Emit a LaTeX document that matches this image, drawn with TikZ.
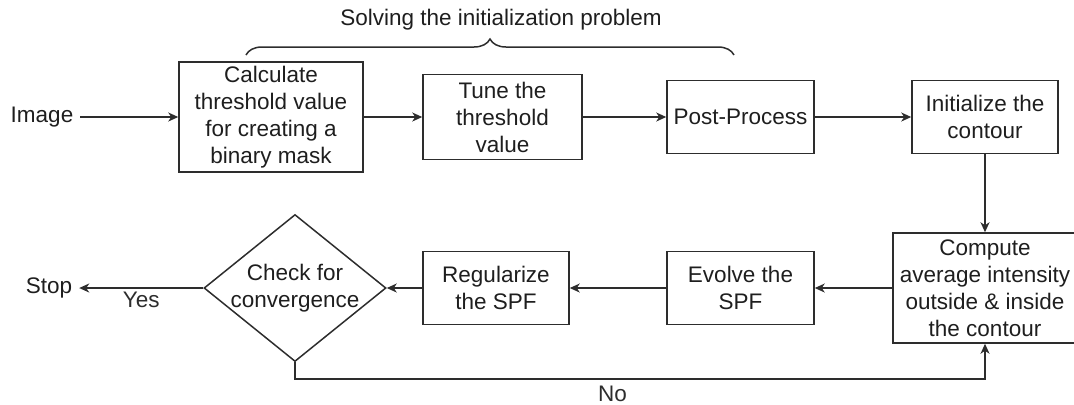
\documentclass[tikz,border=0pt]{standalone}
\usepackage{fontspec}
\setmainfont{Liberation Sans}
\usepackage{tikz}
\usetikzlibrary{arrows.meta,shapes.geometric,decorations.pathreplacing}
\definecolor{FlowInk}{RGB}{30,30,30}
\definecolor{FlowLine}{RGB}{45,45,45}

\begin{document}
\begin{tikzpicture}[x=0.5pt, y=-0.5pt, font=\fontsize{11.25}{13.5}\selectfont, text=FlowInk,
    procbox/.style={draw=FlowLine, line width=0.75pt, align=center, inner sep=2pt},
    flow/.style={-{Stealth[length=5pt,width=4.5pt,inset=1.5pt]}, line width=0.75pt, FlowLine}]
    \useasboundingbox (0,0) rectangle (1074,404);

    % Top row
    \node (img) at (42,117) {Image};
    \node[procbox, minimum width=92pt, minimum height=55pt] (calc) at (271,117) {Calculate\\threshold value\\for creating a\\binary mask};
    \node[procbox, minimum width=79.5pt, minimum height=42.5pt] (tune) at (502.5,117) {Tune the\\threshold\\value};
    \node[procbox, minimum width=73.5pt, minimum height=36.5pt] (post) at (740.5,117) {Post-Process};
    \node[procbox, minimum width=73pt, minimum height=36.5pt] (init) at (985,117) {Initialize the\\contour};

    % Brace over the first three steps
    \draw[FlowLine, line width=0.75pt, decorate, decoration={brace, amplitude=8pt}] (246,55) -- (734,55);
    \node (solving) at (501,20) {Solving the initialization problem};

    % Bottom row
    \node[procbox, minimum width=92pt, minimum height=55pt] (comp) at (985,288) {Compute\\average intensity\\outside \& inside\\the contour};
    \node[procbox, minimum width=73.5pt, minimum height=36.5pt] (evolve) at (740.5,288) {Evolve the\\SPF};
    \node[procbox, minimum width=73pt, minimum height=36.5pt] (reg) at (496,288) {Regularize\\the SPF};
    \node[diamond, draw=FlowLine, line width=0.75pt, inner sep=0pt, minimum width=91pt, minimum height=73.5pt,
        label={[align=center]center:{Check for\\convergence}}] (check) at (295,288) {};
    \node (stop) at (49,288) {Stop};

    % Connectors
    \draw[flow] (img) -- (calc);
    \draw[flow] (calc) -- (tune);
    \draw[flow] (tune) -- (post);
    \draw[flow] (post) -- (init);
    \draw[flow] (init) -- (comp);
    \draw[flow] (comp) -- (evolve);
    \draw[flow] (evolve) -- (reg);
    \draw[flow] (reg) -- (check);
    \draw[flow] (check) -- node[below, inner sep=1.5pt] (yes) {Yes} (stop);
    \coordinate (loopturn) at (295,379);
    \draw[flow] (check.south) -- (loopturn) -| node[pos=0.23, below] (no) {No} (comp.south);
\end{tikzpicture}
\end{document}
